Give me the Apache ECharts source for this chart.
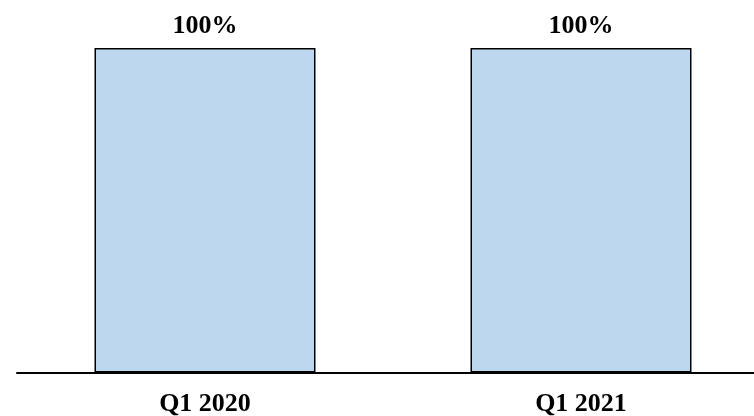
<!DOCTYPE html>
<html><head><meta charset="utf-8">
<style>html,body{margin:0;padding:0;background:#fff}#c{width:754px;height:416px}</style>
<script src="https://cdn.jsdelivr.net/npm/echarts@6/dist/echarts.min.js"></script>
</head><body><div id="c"></div>
<script>
const categories = ['Q1 2020', 'Q1 2021'];
const values = [100, 100];
const labels = ['100%', '100%'];

const chart = echarts.init(document.getElementById('c'));
chart.setOption({
  animation: false,
  grid: { left: 17, width: 752, top: 48, bottom: 43.5, containLabel: false, outerBoundsMode: 'none' },
  xAxis: {
    type: 'category', data: categories,
    axisLine: { show: true, lineStyle: { color: '#000', width: 2 } },
    axisTick: { show: false },
    axisLabel: { color: '#000', fontFamily: 'Liberation Serif', fontWeight: 'bold', fontSize: 26, margin: 19 }
  },
  yAxis: { type: 'value', min: 0, max: 100, show: false, splitLine: { show: false } },
  series: [{
    type: 'bar', data: values, barWidth: 221,
    itemStyle: { color: '#BDD7EE', borderColor: '#000', borderWidth: 1.5 },
    label: {
      show: true, position: 'top', distance: 9,
      formatter: p => labels[p.dataIndex],
      color: '#000', fontFamily: 'Liberation Serif', fontWeight: 'bold', fontSize: 26
    }
  }]
});
</script></body></html>
